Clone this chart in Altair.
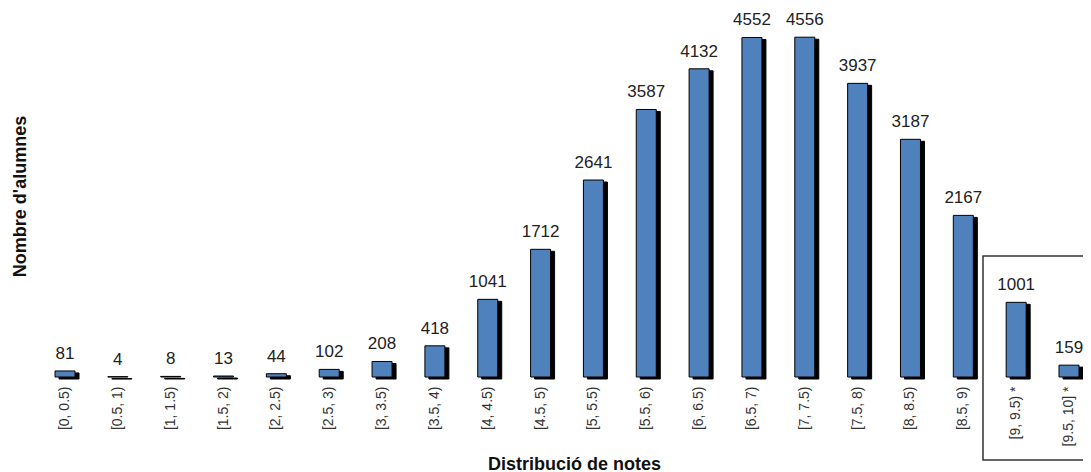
import altair as alt
import pandas as pd

categories = ["[0, 0.5)", "[0.5, 1)", "[1, 1.5)", "[1.5, 2)", "[2, 2.5)", "[2.5, 3)",
              "[3, 3.5)", "[3.5, 4)", "[4, 4.5)", "[4.5, 5)", "[5, 5.5)", "[5.5, 6)",
              "[6, 6.5)", "[6.5, 7)", "[7, 7.5)", "[7.5, 8)", "[8, 8.5)", "[8.5, 9)",
              "[9, 9.5) *", "[9.5, 10] *"]
counts = [81, 4, 8, 13, 44, 102, 208, 418, 1041, 1712, 2641, 3587, 4132, 4552,
          4556, 3937, 3187, 2167, 1001, 159]

df = pd.DataFrame({"cat": categories, "n": counts})

FONT = "Liberation Sans"

x = alt.X("cat:N", sort=categories,
          scale=alt.Scale(domain=categories, paddingInner=0.6215, paddingOuter=0),
          axis=alt.Axis(title="Distribució de notes", labelAngle=270, labelFontSize=14,
                        labelColor="#333333", labelPadding=9, ticks=False, domain=False,
                        grid=False, labelOverlap=False, labelFont=FONT,
                        titleFont=FONT, titleFontSize=18, titleFontWeight="bold",
                        titleColor="#111111", titleX=519, titleY=92,
                        titleBaseline="alphabetic", titleAlign="center"))
y = alt.Y("n:Q", scale=alt.Scale(domain=[0, 4800]),
          axis=alt.Axis(title="Nombre d'alumnes", labels=False, ticks=False, domain=False,
                        grid=False, titleFont=FONT, titleFontSize=18, titleFontWeight="bold",
                        titleColor="#111111", titleX=-35, titleY=177, titleAngle=270,
                        titleBaseline="middle", titleAlign="center"))

base = alt.Chart(df)

shadow = base.mark_bar(color="black", stroke="black", strokeWidth=1, xOffset=4, yOffset=2).encode(x=x, y=y)
bars = base.mark_bar(color="#4F81BD", stroke="black", strokeWidth=1).encode(x=x, y=y)
labels = base.mark_text(dy=-12, baseline="alphabetic", fontSize=17, color="#222222",
                        font=FONT).encode(x=x, y=y, text="n:Q")

box = alt.Chart(pd.DataFrame({"k": [0]})).mark_rect(
    fill="transparent", stroke="#333333", strokeWidth=1.5
).encode(x=alt.value(928), x2=alt.value(1060), y=alt.value(237), y2=alt.value(441))

chart = alt.layer(shadow, bars, labels, box).properties(
    width=1024, height=358,
    padding={"left": 47, "top": 11, "right": 4, "bottom": 95},
    autosize=alt.AutoSizeParams(type="none"),
    background="white",
).configure_view(stroke=None)

chart.save("out.html", embed_options={"renderer": "svg", "actions": False})
